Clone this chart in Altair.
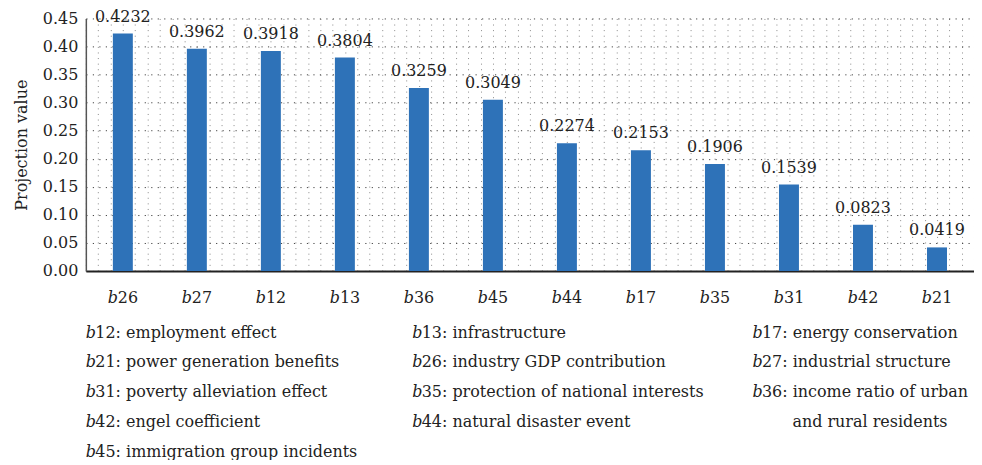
import altair as alt
import pandas as pd

# ---- data ----
categories = ["b26", "b27", "b12", "b13", "b36", "b45", "b44", "b17", "b35", "b31", "b42", "b21"]
values = [0.4232, 0.3962, 0.3918, 0.3804, 0.3259, 0.3049, 0.2274, 0.2153, 0.1906, 0.1539, 0.0823, 0.0419]
value_labels = ["0.4232", "0.3962", "0.3918", "0.3804", "0.3259", "0.3049",
                "0.2274", "0.2153", "0.1906", "0.1539", "0.0823", "0.0419"]
y_ticks = [0.0, 0.05, 0.10, 0.15, 0.20, 0.25, 0.30, 0.35, 0.40, 0.45]

legend_col1_codes = ["12", "21", "31", "42", "45"]
legend_col1_texts = ["employment effect", "power generation benefits", "poverty alleviation effect",
                     "engel coefficient", "immigration group incidents"]
legend_col2_codes = ["13", "26", "35", "44"]
legend_col2_texts = ["infrastructure", "industry GDP contribution", "protection of national interests",
                     "natural disaster event"]
legend_col3_codes = ["17", "27", "36"]
legend_col3_texts = ["energy conservation", "industrial structure", "income ratio of urban"]
legend_col3_continuation = "and rural residents"

FONT = "DejaVu Serif"
FS = 16
BLUE = "#2E72B8"
TEXT = "#222222"

PLOT_W = 890
PLOT_H = 253
GRID_N = len(categories) * 6

df = pd.DataFrame({
    "cat": categories,
    "val": values,
    "lab": value_labels,
    "num": [c[1:] for c in categories],
})

x_axis = alt.Axis(title=None, labels=False, ticks=False, grid=False,
                  domain=True, domainColor="#222222", domainWidth=2, orient="bottom")
y_axis = alt.Axis(title="Projection value", values=y_ticks, format=".2f", labelOverlap=False,
                  labelFont=FONT, labelFontSize=FS, labelColor=TEXT, labelPadding=8,
                  ticks=False, domain=True, domainColor="#555555", domainWidth=1.5,
                  grid=True, gridColor="#444444", gridDash=[1.2, 5.3], gridWidth=1,
                  titleFont=FONT, titleFontSize=FS, titleFontWeight="normal",
                  titleColor=TEXT, titlePadding=13)
x_scale = alt.Scale(type="band", paddingInner=0, paddingOuter=0)
y_scale = alt.Scale(domain=[0, 0.45], nice=False, zero=True)

x_enc = alt.X("cat:N", sort=categories, scale=x_scale, axis=x_axis)
y_enc = alt.Y("val:Q", scale=y_scale, axis=y_axis)

base = alt.Chart(df)

bars = base.mark_bar(color=BLUE, size=20).encode(x=x_enc, y=y_enc)

val_text = base.mark_text(font=FONT, fontSize=FS, color=TEXT, baseline="alphabetic",
                          align="center", dy=-12).encode(x=x_enc, y=y_enc, text="lab:N")

xlab_b = base.mark_text(font=FONT, fontSize=FS, fontStyle="italic", color=TEXT,
                        baseline="middle", align="right", dx=-5, dy=27).encode(
    x=x_enc, y=alt.Y("zero:Q", scale=y_scale, axis=y_axis), text=alt.value("b")
).transform_calculate(zero="0")
xlab_n = base.mark_text(font=FONT, fontSize=FS, color=TEXT,
                        baseline="middle", align="left", dx=-5, dy=27).encode(
    x=x_enc, y=alt.Y("zero:Q", scale=y_scale, axis=y_axis), text="num:N"
).transform_calculate(zero="0")

vgrid = alt.Chart(pd.DataFrame({"g": [0]})).mark_point(opacity=0).encode(
    x=alt.X("g:Q", scale=alt.Scale(domain=[0, GRID_N], nice=False, zero=True),
            axis=alt.Axis(values=list(range(GRID_N + 1)), grid=True, labels=False, ticks=False,
                          domain=False, title=None, orient="top",
                          gridColor="#8a8a8a", gridDash=[1, 4.6], gridWidth=1))
)

main = alt.layer(bars, val_text, xlab_b, xlab_n)
top = alt.layer(vgrid, main).resolve_scale(x="independent").properties(width=PLOT_W, height=PLOT_H)


def legend_column(codes, texts, width, continuation=None):
    d = pd.DataFrame({"row": list(range(len(codes))), "code": codes,
                      "desc": [c + ": " + t for c, t in zip(codes, texts)]})
    yenc = alt.Y("row:O", scale=alt.Scale(type="point", domain=[0, 1, 2, 3, 4], range=[0, 119], padding=0),
                 axis=None)
    xenc = alt.X("zero:Q", scale=alt.Scale(domain=[0, 1]), axis=None)
    b = alt.Chart(d).transform_calculate(zero="0").mark_text(
        font=FONT, fontSize=FS, fontStyle="italic", color=TEXT, align="left", baseline="middle").encode(
        x=xenc, y=yenc, text=alt.value("b"))
    t = alt.Chart(d).transform_calculate(zero="0").mark_text(
        font=FONT, fontSize=FS, color=TEXT, align="left", baseline="middle", dx=9.5).encode(
        x=xenc, y=yenc, text="desc:N")
    layers = [b, t]
    if continuation is not None:
        c = alt.Chart(pd.DataFrame({"row": [len(codes)], "desc": [continuation]})).transform_calculate(
            zero="0").mark_text(font=FONT, fontSize=FS, color=TEXT, align="left", baseline="middle",
                                dx=40).encode(x=xenc, y=yenc, text="desc:N")
        layers.append(c)
    return alt.layer(*layers).properties(width=width, height=119)


legend = alt.hconcat(
    legend_column(legend_col1_codes, legend_col1_texts, 327),
    legend_column(legend_col2_codes, legend_col2_texts, 341),
    legend_column(legend_col3_codes, legend_col3_texts, 222, legend_col3_continuation),
    spacing=0,
)

chart = alt.vconcat(top, legend, spacing=19).properties(
    padding={"left": 5, "top": 0, "right": 0, "bottom": 0}
).configure_view(stroke=None).configure_concat(spacing=0)

chart.save("out.html", embed_options={"renderer": "svg", "actions": False})
